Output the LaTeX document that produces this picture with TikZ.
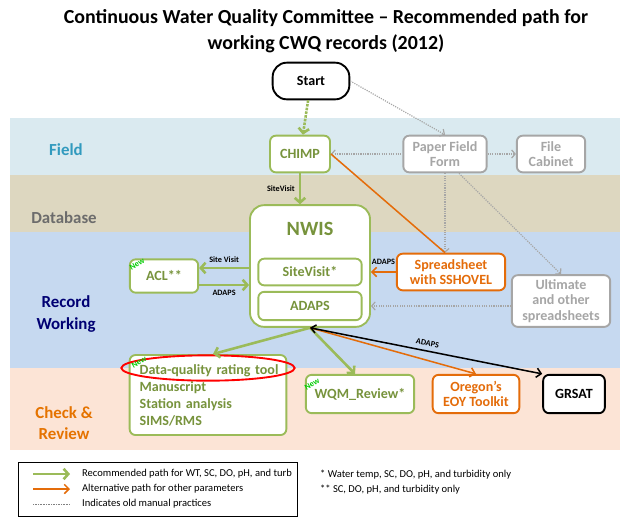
\documentclass[tikz,border=0pt]{standalone}
\usepackage{fontspec}
\setmainfont{Carlito}
\usepackage{tikz}
\usetikzlibrary{arrows.meta}
\usetikzlibrary{calc}
\usetikzlibrary{shapes.geometric}

\definecolor{grn}{HTML}{9BBB59}
\definecolor{grntext}{HTML}{77933C}
\definecolor{org}{HTML}{E46C0A}
\definecolor{gry}{HTML}{A6A6A6}

\tikzset{
    box/.style={draw,rounded corners=5pt,line width=1.6pt,fill=white,font=\fontsize{12}{13}\selectfont\bfseries,align=center,inner sep=0pt},
    gbox/.style={box,draw=grn,text=grntext},
    obox/.style={box,draw=org,text=org},
    ybox/.style={box,draw=gry,text=gry},
    garrow/.style={draw=grn,line width=2.2pt,-{Straight Barb[length=4pt,width=9pt]}},
    oarrow/.style={draw=org,line width=1.3pt,-{Straight Barb[length=4pt,width=8pt]}},
    darrow/.style={draw=gry,densely dotted,line width=1pt,-{Straight Barb[length=3pt,width=7pt]}},
    newtag/.style={text=green!80!black,font=\bfseries\scriptsize,rotate=30,inner sep=0pt},
    small/.style={font=\scriptsize\bfseries},
    legtext/.style={anchor=west,font=\fontsize{9}{10}\selectfont}
}

\begin{document}
\begin{tikzpicture}[x=0.03cm,y=-0.03cm]
            \useasboundingbox (0,0) rectangle (624,521);

            % bands
            \fill[fill={rgb,255:red,218;green,234;blue,240}] (10,118) rectangle (620,175);
            \fill[fill={rgb,255:red,221;green,215;blue,192}] (10,175) rectangle (620,232);
            \fill[fill={rgb,255:red,198;green,217;blue,240}] (10,232) rectangle (620,368);
            \fill[fill={rgb,255:red,252;green,228;blue,214}] (10,368) rectangle (620,450);

            \node[font=\fontsize{17}{22}\selectfont\bfseries,align=center] (title) at (326,31) {Continuous Water Quality Committee -- Recommended path for\\working CWQ records (2012)};

            \node[font=\Large\bfseries,text={rgb,255:red,49;green,154;blue,190}] (lfield) at (66,150) {Field};
            \node[font=\Large\bfseries,text=gray!85!black] (ldb) at (64,218) {Database};
            \node[font=\Large\bfseries,text=blue!45!black,align=center] (lrec) at (66,314) {Record\\Working};
            \node[font=\Large\bfseries,text=orange!90!black,align=center] (lchk) at (64,423) {Check \&\\Review};

            % nodes
            \node[box,draw=black,rounded corners=12pt,minimum width=2.3cm,minimum height=1.1cm] (start) at (311,81) {Start};
            \node[gbox,minimum width=1.8cm,minimum height=1.1cm] (chimp) at (300,154) {CHIMP};
            \node[ybox,minimum width=2.5cm,minimum height=1.1cm] (paper) at (445,154) {Paper Field\\Form};
            \node[ybox,minimum width=2.05cm,minimum height=1.1cm] (cabinet) at (551,154) {File\\Cabinet};
            \node[gbox,rounded corners=12pt,minimum width=3.6cm,minimum height=3.65cm] (nwis) at (310,266) {};
            \node[text=grntext,font=\LARGE\bfseries] (nwistitle) at (310,229) {NWIS};
            \node[gbox,minimum width=3.1cm,minimum height=0.8cm] (sitevisit) at (310,272) {SiteVisit*};
            \node[gbox,minimum width=3.1cm,minimum height=0.85cm] (adaps) at (310,306) {ADAPS};
            \node[obox,minimum width=3.25cm,minimum height=1.1cm] (sshovel) at (451,272) {Spreadsheet\\with SSHOVEL};
            \node[ybox,minimum width=2.95cm,minimum height=1.55cm] (ultimate) at (561,301) {Ultimate\\and other\\spreadsheets};
            \node[gbox,minimum width=2.05cm,minimum height=1cm] (acl) at (164,276) {ACL**};
            \node[gbox,minimum width=4.7cm,minimum height=2.4cm,align=left,text width=4.5cm,font=\fontsize{12}{14.5}\selectfont\bfseries] (tools) at (208,395) {\hspace*{0.2cm}Data-quality rating tool\\\hspace*{0.2cm}Manuscript\\\hspace*{0.2cm}Station analysis\\\hspace*{0.2cm}SIMS/RMS};
            \draw[red,line width=1.6pt] (208,368) ellipse (2.6cm and 0.38cm);
            \node[gbox,minimum width=3.25cm,minimum height=1.15cm] (wqm) at (360,394) {WQM\_Review*};
            \node[obox,minimum width=2.6cm,minimum height=1.15cm] (eoy) at (476,394) {Oregon's\\EOY Toolkit};
            \node[box,draw=black,minimum width=1.85cm,minimum height=1.15cm] (grsat) at (574,394) {GRSAT};

            \node[newtag] (new1) at (137,264) {New};
            \node[newtag] (new2) at (139,362) {New};
            \node[newtag] (new3) at (312,384) {New};

            % connectors
            \draw[garrow,densely dotted] (start) -- (chimp);
            \draw[garrow] (chimp) -- (nwis.north -| chimp) node[midway,left,small,text=black] {SiteVisit};
            \draw[darrow] (start.east) -- (paper.north);
            \draw[darrow,{Straight Barb[length=3pt,width=7pt]}-] (chimp) -- (paper);
            \draw[darrow] (paper) -- (cabinet);
            \draw[darrow] (paper) -- (sshovel.north -| paper);
            \draw[darrow] ($(paper.south)+(14,0)$) -- (ultimate.north);
            \draw[oarrow,-] (chimp.east) -- (sshovel.north -| paper);
            \draw[oarrow] (sshovel) -- (nwis.east |- sshovel) node[midway,above=2pt,small,text=black] {ADAPS};
            \draw[darrow] (ultimate.west |- adaps) -- (nwis.east |- adaps);
            \draw[garrow] (nwis.west |- 0,268) -- (acl.east |- 0,268) node[midway,above,small,text=black] {Site Visit};
            \draw[garrow] (acl.east |- 0,285) -- (nwis.west |- 0,285) node[midway,below,small,text=black] {ADAPS};
            \draw[garrow] (nwis.south) -- ($(tools.north)+(5,0)$);
            \draw[garrow] (nwis.south) -- ($(wqm.north)+(-5,0)$);
            \draw[oarrow] (nwis.south) -- (eoy.north);
            \draw[line width=1.3pt,{Straight Barb[length=4pt,width=7pt]}-{Straight Barb[length=4pt,width=8pt]}] (nwis.south) -- (grsat.north west) node[midway,above,sloped,small] {ADAPS};

            % legend
            \draw[line width=0.6pt] (18,462) rectangle (297,516);
            \draw[garrow] (33,474) -- (70,474);
            \node[legtext] (leg1) at (78,474) {Recommended path for WT, SC, DO, pH, and turb};
            \draw[oarrow] (33,489) -- (70,489);
            \node[legtext] (leg2) at (78,489) {Alternative path for other parameters};
            \draw[gray,densely dotted] (33,504) -- (70,504);
            \node[legtext] (leg3) at (78,504) {Indicates old manual practices};
            \node[legtext] (note1) at (316,475) {* Water temp, SC, DO, pH, and turbidity only};
            \node[legtext] (note2) at (316,490) {** SC, DO, pH, and turbidity only};
        \end{tikzpicture}
\end{document}
